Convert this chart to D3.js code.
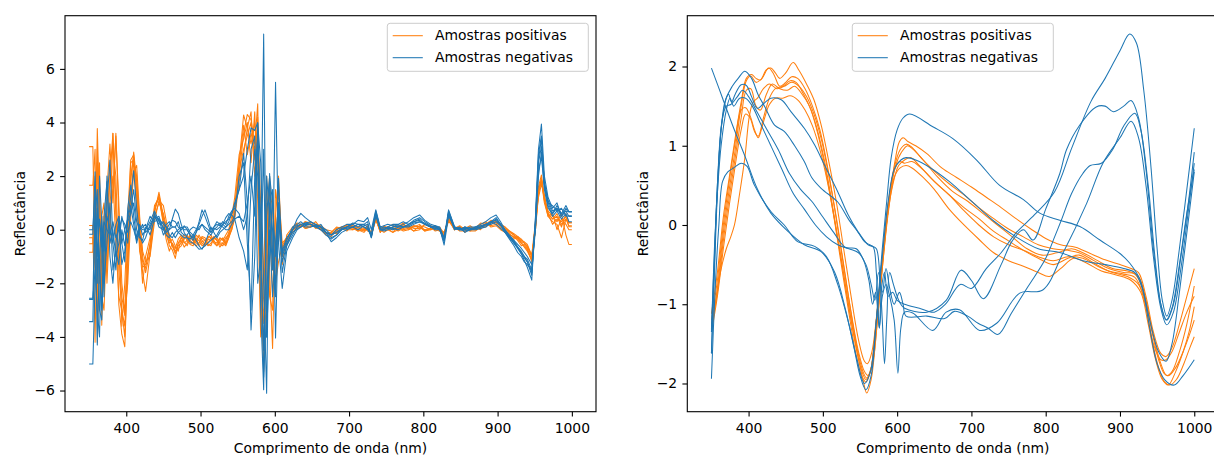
<!DOCTYPE html>
<html>
<head>
<meta charset="utf-8">
<script src="https://cdn.jsdelivr.net/npm/d3@7"></script>
<style>
  body { margin: 0; background: #fff; }
  svg text { font-family: "DejaVu Sans", sans-serif; }
</style>
</head>
<body>
<svg id="fig" width="1214" height="455"></svg>
<script>
var POS_COLOR = '#ff7f0e';
var NEG_COLOR = '#1f77b4';

var legendLabels = ['Amostras positivas', 'Amostras negativas'];
var xLabel = 'Comprimento de onda (nm)';
var yLabel = 'Reflectância';
var xTicks = [400, 500, 600, 700, 800, 900, 1000];
var yTicksLeft = [-6, -4, -2, 0, 2, 4, 6];
var yTicksRight = [-2, -1, 0, 1, 2];

// left panel: derivative spectra, one value per wavelength of waveLeft
var waveLeft = [
  350,355,358,361,364,367,370,374,378,382,
  386,390,394,398,402,406,410,414,418,422,
  426,432,438,444,450,454,458,462,466,470,474,478,482,486,490,494,
  498,502,506,510,514,518,522,526,530,534,538,542,546,552,558,563,
  568,573,577,581,585,589,593,597,601,605,
  610,616,624,630,635,641,648,655,662,669,676,683,690,697,705,712,720,725,
  730,736,742,747,752,759,766,773,780,787,795,802,810,816,822,828,
  834,842,849,856,863,870,877,884,891,898,904,910,916,922,927,932,936,940,
  946,951,955,959,963,968,974,980,986,992,
  996,1000
];

var leftPos = [
  [3.1,3.1,-1.2,3.78,0.8,-2.8,-1.5,0.5,-0.5,3.6,
   1.0,-2.8,-3.9,-4.37,-1.2,1.8,2.9,1.8,-0.2,-1.6,
   -2.3,-0.9,0.6,1.4,0.5,-0.1,-0.6,-0.75,-1.07,-0.5,-0.4,-0.65,-0.5,-0.2,-0.3,-0.45,
   -0.2,-0.4,-0.55,-0.25,-0.3,-0.5,-0.6,-0.35,-0.35,-0.55,-0.3,0.0,0.6,2.0,3.6,4.3,
   4.1,3.2,4.7,-1.5,-5.3,-2.0,1.5,0.8,-2.0,-1.2,
   -0.6,-0.3,-0.1,0.05,0.2,0.1,0.15,0.3,0.05,-0.1,-0.2,-0.05,0.0,0.2,0.1,-0.05,0.0,0.15,
   -0.2,0.5,-0.1,0.15,0.05,-0.1,0.1,0.25,0.0,0.1,0.2,-0.05,0.05,0.15,0.0,-0.25,
   0.5,0.0,0.1,-0.1,0.05,0.0,0.2,0.3,0.1,0.15,0.0,-0.1,-0.25,-0.35,-0.3,-0.5,-0.6,-0.75,
   -1.1,0.2,1.6,2.04,1.2,0.6,0.4,0.5,0.1,0.6,
   0.26,0.26],
  [1.66,1.66,3.0,-4.2,-1.0,0.5,-2.0,1.5,3.2,1.0,
   3.6,0.5,-3.6,-2.0,0.5,2.6,2.8,1.2,-0.8,-1.4,
   -1.3,-0.6,0.9,1.2,0.2,-0.4,-0.8,-0.5,-0.7,-0.35,-0.2,-0.45,-0.6,-0.3,-0.4,-0.6,
   -0.5,-0.25,-0.3,-0.55,-0.6,-0.3,-0.4,-0.65,-0.5,-0.3,-0.2,0.3,0.9,2.5,4.28,3.8,
   4.4,2.0,3.5,-3.43,-2.5,1.0,-1.5,-4.43,0.5,2.0,
   -1.0,-0.5,0.0,0.2,0.1,0.3,0.25,0.05,0.1,-0.15,-0.1,0.1,0.05,-0.05,0.2,0.05,-0.05,0.1,
   -0.15,0.4,-0.05,0.0,0.1,0.2,-0.05,0.05,0.1,-0.05,0.0,0.2,0.15,0.0,-0.05,-0.2,
   0.4,0.1,-0.05,-0.05,0.1,0.05,0.25,0.2,0.35,0.3,0.1,0.0,-0.15,-0.3,-0.25,-0.45,-0.5,-0.6,
   -1.0,0.0,1.5,1.79,1.0,0.5,0.3,0.2,-0.3,0.4,
   0.15,0.15],
  [0.16,0.16,-4.2,1.0,2.5,-3.56,0.5,-1.5,1.0,2.0,
   -0.5,-2.5,-3.0,-3.6,-0.8,2.0,2.7,1.5,0.0,-1.2,
   -1.44,-0.5,0.8,1.2,0.3,-0.2,-0.5,-0.35,-0.6,-0.8,-0.3,-0.2,-0.4,-0.55,-0.6,-0.35,
   -0.4,-0.6,-0.5,-0.3,-0.2,-0.45,-0.5,-0.3,-0.4,-0.2,0.0,0.5,1.2,2.8,3.4,4.0,
   2.5,4.4,1.0,-4.0,-1.5,2.0,-2.5,-3.0,1.5,0.5,
   -1.3,-0.2,0.1,0.25,0.2,0.05,0.1,0.2,0.15,0.0,-0.05,-0.15,0.1,0.15,0.0,0.1,0.1,-0.05,
   -0.1,0.55,0.0,-0.1,0.0,0.1,0.15,0.0,0.05,0.15,0.1,-0.05,0.0,0.1,0.05,-0.2,
   0.45,0.05,0.15,0.0,-0.05,0.1,0.0,0.25,0.15,0.2,0.05,-0.05,-0.2,-0.25,-0.4,-0.6,-0.55,-0.7,
   -1.2,0.1,1.4,1.9,1.1,0.7,0.5,0.3,0.6,-0.2,
   -0.55,-0.55],
  [-0.52,-0.52,2.0,-3.0,1.5,-2.5,-3.0,0.0,2.5,3.0,
   2.0,-1.5,-3.0,-4.0,-1.5,1.2,2.5,2.0,0.3,-1.0,
   -1.6,-0.8,0.5,1.0,0.6,0.1,-0.3,-0.6,-0.8,-0.6,-0.5,-0.3,-0.3,-0.5,-0.5,-0.2,
   -0.3,-0.5,-0.6,-0.35,-0.4,-0.25,-0.4,-0.55,-0.6,-0.4,-0.1,0.2,0.7,2.2,3.0,3.5,
   4.0,2.6,4.2,-2.0,-4.5,-0.5,1.8,-1.0,-2.2,0.8,
   -0.8,-0.4,0.0,0.1,0.15,0.3,0.2,0.1,0.0,-0.2,-0.25,0.0,0.1,0.15,0.05,-0.05,0.05,0.1,
   -0.25,0.45,0.1,0.05,0.0,-0.1,0.0,0.15,0.15,0.05,0.05,0.2,0.1,-0.05,0.0,-0.1,
   0.35,0.0,0.1,0.05,0.15,0.0,0.1,0.1,0.3,0.25,0.15,0.05,-0.1,-0.2,-0.3,-0.4,-0.45,-0.55,
   -0.95,0.3,1.2,1.7,1.3,0.6,0.2,0.4,0.3,0.5,
   0.11,0.11],
  [-0.84,-0.84,1.0,2.5,-2.0,0.5,1.0,-2.0,0.5,1.5,
   3.5,1.0,-2.0,-3.0,-2.0,0.5,2.2,2.4,0.5,-0.8,
   -1.2,-1.0,0.3,1.1,0.9,0.3,-0.2,-0.6,-0.9,-0.5,-0.3,-0.5,-0.4,-0.2,-0.4,-0.5,
   -0.5,-0.3,-0.4,-0.5,-0.3,-0.4,-0.6,-0.45,-0.3,-0.5,-0.2,0.0,0.4,1.8,2.8,3.8,
   3.2,4.0,2.5,0.0,-3.5,-1.0,0.5,-2.5,-1.0,1.5,
   -0.5,-0.3,0.0,0.15,0.1,0.2,0.3,0.15,0.05,-0.1,-0.15,-0.05,0.0,0.1,0.15,0.0,-0.1,0.05,
   -0.1,0.4,-0.1,0.1,0.05,0.0,0.05,0.2,0.1,-0.05,0.15,0.1,0.0,0.05,0.1,-0.15,
   0.3,0.1,0.0,0.1,-0.05,-0.05,0.1,0.15,0.2,0.3,0.2,0.1,-0.05,-0.15,-0.25,-0.35,-0.5,-0.65,
   -1.0,0.0,1.3,1.85,1.1,0.5,0.6,0.0,0.4,0.2,
   0.0,0.0],
  [-0.3,-0.3,-1.5,3.0,0.0,-1.5,0.0,-1.0,2.0,3.6,
   0.5,-1.0,-2.5,-3.2,0.0,2.5,2.6,0.8,-0.5,-2.0,
   -1.0,-0.3,0.7,1.3,0.4,0.0,-0.4,-0.55,-0.8,-0.7,-0.6,-0.35,-0.2,-0.4,-0.5,-0.3,
   -0.6,-0.45,-0.4,-0.6,-0.5,-0.35,-0.3,-0.5,-0.5,-0.6,-0.3,0.1,0.5,2.4,3.9,2.8,
   3.6,3.0,3.8,1.0,-2.0,0.5,2.0,-1.5,-0.5,1.0,
   -0.7,-0.3,-0.1,0.1,0.2,0.05,0.1,0.2,0.0,-0.15,-0.1,0.05,0.1,0.0,0.0,0.1,0.0,0.05,
   -0.2,0.35,0.0,0.1,0.1,0.05,0.05,-0.05,0.0,0.15,0.1,0.0,0.05,0.1,0.0,-0.1,
   0.4,0.0,0.05,0.05,0.0,0.0,0.15,0.2,0.25,0.3,0.2,0.1,-0.05,-0.2,-0.35,-0.5,-0.65,-0.8,
   -1.13,0.2,1.5,1.9,1.2,0.6,0.4,0.6,0.2,0.4,
   0.26,0.26]
];

var leftNeg = [
  [-0.17,-0.17,2.16,-1.0,0.4,-0.5,0.3,0.0,-0.2,0.3,
   -0.3,0.0,0.4,0.2,-0.1,0.3,0.0,-0.4,0.1,0.0,
   0.0,0.3,0.7,0.3,0.1,-0.1,0.0,0.4,0.77,0.6,0.2,-0.1,-0.3,-0.35,-0.2,0.0,
   0.2,0.5,0.74,0.4,0.0,0.1,0.2,0.15,0.3,0.2,0.5,0.7,0.8,0.6,0.0,0.5,
   3.0,3.5,-2.0,-1.0,7.3,-4.0,0.0,-2.5,-0.5,1.0,
   -0.8,-0.3,0.0,0.4,0.61,0.45,0.3,0.2,0.1,-0.1,-0.2,0.0,0.1,0.2,0.2,0.35,0.3,0.45,
   0.0,0.74,0.1,0.15,0.2,0.15,0.1,0.2,0.3,0.45,0.55,0.35,0.2,0.15,0.1,-0.3,
   0.74,0.1,0.05,0.0,0.1,0.1,0.2,0.3,0.45,0.55,0.3,0.0,-0.25,-0.5,-0.7,-0.9,-1.15,-1.4,
   -1.88,0.5,3.0,3.94,2.0,1.2,0.8,1.0,0.5,0.8,
   0.67,0.67],
  [-2.56,-2.56,1.0,-4.3,-1.0,0.5,-2.5,1.0,2.6,-0.5,
   -1.5,0.5,-0.5,-1.2,0.8,1.67,0.5,-0.3,0.2,-0.2,
   0.0,0.5,0.3,0.4,-0.2,0.0,0.2,0.35,0.3,0.1,0.0,0.15,0.0,-0.2,-0.3,-0.1,
   0.1,0.2,0.0,-0.1,-0.2,0.0,0.1,0.25,0.2,0.1,0.3,0.6,1.0,1.5,2.85,1.0,
   -3.74,-1.0,3.97,2.5,-2.0,-6.1,2.1,-1.0,-2.0,1.92,
   -1.2,-0.6,-0.2,0.1,0.2,0.25,0.3,0.2,0.1,-0.1,-0.3,-0.2,0.0,0.1,0.2,0.1,0.2,0.3,
   -0.3,0.6,0.0,0.05,0.1,0.2,0.2,0.1,0.1,0.2,0.3,0.25,0.1,0.05,0.0,-0.4,
   0.6,0.0,0.1,-0.1,0.0,0.1,0.15,0.2,0.3,0.2,0.05,-0.1,-0.3,-0.5,-0.65,-0.8,-1.0,-1.2,
   -1.6,0.3,2.5,3.1,1.8,1.0,0.9,0.7,0.8,0.5,
   0.52,0.52],
  [-3.43,-3.43,0.5,1.5,-3.0,-3.37,-1.0,2.0,-1.0,-2.0,
   -0.5,0.3,-1.3,-0.8,0.5,1.2,2.2,0.8,-0.2,-0.5,
   -0.3,0.2,0.5,0.2,0.3,0.1,-0.2,-0.3,-0.1,0.0,0.1,0.0,0.0,-0.2,-0.4,-0.1,
   0.3,0.74,0.5,0.2,-0.1,0.1,0.3,0.2,0.1,0.0,0.0,0.2,0.4,0.5,0.3,1.0,
   2.0,0.5,3.5,-3.0,-5.97,2.0,0.5,-1.5,5.5,-0.5,
   -2.19,-0.8,-0.3,0.0,0.1,0.25,0.2,0.1,0.2,-0.1,-0.45,-0.3,-0.1,0.0,0.1,0.2,0.2,0.1,
   -0.3,0.5,0.0,-0.05,0.0,0.1,0.2,0.3,0.2,0.3,0.4,0.2,0.1,0.15,0.05,-0.57,
   0.5,0.1,0.0,0.1,0.0,0.0,0.05,0.1,0.25,0.4,0.2,-0.1,-0.35,-0.6,-0.85,-1.0,-1.2,-1.3,
   -1.5,0.0,2.2,2.72,1.5,0.8,0.6,0.9,0.6,0.7,
   0.67,0.67],
  [-5.01,-5.01,-2.0,0.8,-1.5,-3.0,0.5,1.8,-0.5,0.0,
   -1.0,-0.5,0.5,0.0,-0.5,0.8,1.5,0.3,0.0,0.1,
   0.2,-0.2,0.4,0.5,0.0,0.2,0.3,0.1,0.1,-0.1,-0.2,-0.3,-0.3,-0.45,-0.5,-0.6,
   -0.73,-0.7,-0.6,-0.5,-0.4,-0.3,-0.2,0.0,0.2,0.45,0.6,0.55,0.4,-0.3,-0.8,-1.5,
   1.5,3.0,2.0,-1.5,3.0,-4.0,-1.0,1.5,-4.04,0.5,
   -1.6,-0.6,0.0,0.15,0.2,0.1,0.1,0.15,0.0,-0.2,-0.35,-0.2,0.0,0.1,0.25,0.2,0.1,0.05,
   -0.2,0.65,0.0,0.0,0.1,0.05,0.0,0.1,0.2,0.35,0.45,0.3,0.15,0.1,0.0,-0.4,
   0.65,0.05,0.0,-0.05,0.0,0.05,0.1,0.15,0.3,0.45,0.2,-0.1,-0.3,-0.4,-0.65,-0.9,-1.05,-1.2,
   -1.7,0.4,2.8,3.5,1.7,1.1,0.7,0.8,0.6,0.9,
   0.67,0.67],
  [0.0,0.0,1.5,-2.0,2.0,0.3,-0.8,0.5,0.0,-0.5,
   0.2,0.5,-0.5,0.0,0.4,0.9,0.2,-0.5,0.0,0.2,
   -0.1,0.1,0.5,0.4,0.2,0.1,0.0,0.1,0.1,0.3,-0.1,-0.2,-0.2,0.0,0.1,0.05,
   0.0,0.2,0.1,0.0,-0.1,0.05,0.0,0.1,0.2,0.3,0.4,0.6,0.9,1.5,2.0,3.0,
   3.8,3.7,4.0,-1.0,-4.5,0.5,2.0,1.0,-1.0,1.0,
   -0.9,-0.4,0.1,0.2,0.3,0.15,0.2,0.1,0.0,-0.1,-0.2,-0.1,0.0,0.05,0.1,0.2,0.1,0.0,
   -0.2,0.7,0.05,0.1,0.05,0.0,0.1,0.1,0.15,0.25,0.3,0.2,0.1,0.0,0.0,-0.3,
   0.6,0.05,0.0,0.1,0.05,0.05,0.1,0.2,0.2,0.3,0.15,0.0,-0.2,-0.4,-0.55,-0.7,-0.85,-1.0,
   -1.3,0.1,2.0,2.9,1.6,0.9,0.5,0.7,0.4,0.6,
   0.3,0.3],
  [-2.6,-2.6,-1.5,-3.0,-4.0,0.0,-2.0,-0.5,1.0,-1.5,
   -0.8,-1.3,0.0,-0.6,0.3,0.6,1.0,0.0,-0.3,-0.4,
   0.1,0.0,0.6,0.1,0.0,-0.2,-0.3,-0.1,-0.3,-0.1,0.0,0.1,0.1,-0.1,-0.2,-0.4,
   -0.6,-0.73,-0.5,-0.2,0.1,-0.1,-0.3,-0.1,0.0,0.1,0.2,0.3,0.5,2.0,2.5,-0.5,
   -3.0,2.0,3.5,0.5,-5.5,-3.0,1.0,0.0,-2.5,1.0,
   -1.0,-0.5,-0.1,0.05,0.1,0.2,0.2,0.15,0.1,0.0,-0.2,-0.1,0.05,0.1,0.1,0.0,0.15,0.2,
   -0.25,0.6,0.05,0.0,0.05,0.1,0.15,0.1,0.2,0.3,0.35,0.2,0.1,0.1,0.05,-0.45,
   0.7,0.1,0.0,0.05,0.0,0.05,0.1,0.2,0.3,0.35,0.2,-0.05,-0.25,-0.45,-0.65,-0.85,-1.0,-1.1,
   -1.5,0.2,2.6,3.4,1.7,1.0,0.6,0.8,0.5,0.7,
   0.49,0.49]
];

// right panel: normalised spectra as [wavelength, value] pairs
var rightPos = [
  [[350,-1.12],[358,-0.6],[366,0.1],[374,0.6],[382,1.1],[390,1.55],[397,1.85],[404,1.9],[410,1.85],[416,1.83],[424,1.96],[430,1.98],[436,1.92],[442,1.85],[450,1.92],[460,2.05],[468,1.95],[478,1.78],[488,1.58],[498,1.25],[508,0.8],[518,0.3],[528,-0.3],[538,-0.9],[548,-1.45],[556,-1.72],[560,-1.75],[566,-1.6],[574,-1.0],[582,-0.3],[590,0.35],[597,0.8],[603,1.05],[608,1.1],[615,1.05],[625,1.0],[640,0.9],[660,0.72],[680,0.6],[700,0.48],[720,0.35],[740,0.22],[760,0.08],[780,-0.05],[800,-0.17],[820,-0.25],[840,-0.28],[860,-0.36],[880,-0.44],[900,-0.5],[915,-0.55],[925,-0.6],[935,-0.9],[945,-1.35],[955,-1.62],[962,-1.66],[970,-1.55],[980,-1.25],[990,-0.9],[1000,-0.55]],
  [[350,-1.3],[358,-0.8],[366,-0.1],[374,0.45],[382,0.95],[390,1.5],[397,1.82],[403,1.88],[410,1.8],[418,1.85],[427,1.98],[434,1.9],[442,1.75],[450,1.8],[458,1.87],[466,1.85],[476,1.72],[486,1.5],[496,1.2],[506,0.75],[516,0.2],[526,-0.4],[536,-1.0],[546,-1.55],[554,-1.85],[559,-1.93],[565,-1.8],[572,-1.2],[580,-0.45],[588,0.25],[596,0.72],[604,0.95],[612,1.02],[620,0.98],[632,0.85],[650,0.68],[670,0.52],[690,0.38],[710,0.22],[730,0.08],[750,-0.05],[770,-0.15],[790,-0.25],[810,-0.3],[830,-0.32],[845,-0.35],[865,-0.45],[885,-0.55],[905,-0.6],[920,-0.62],[932,-0.85],[942,-1.3],[952,-1.7],[960,-1.88],[966,-1.9],[975,-1.8],[985,-1.6],[993,-1.4],[1000,-1.2]],
  [[350,-1.35],[358,-0.9],[366,-0.3],[374,0.25],[382,0.75],[390,1.2],[396,1.4],[402,1.35],[408,1.18],[413,1.12],[420,1.35],[428,1.6],[436,1.72],[446,1.75],[456,1.82],[464,1.8],[474,1.65],[484,1.45],[494,1.12],[504,0.68],[514,0.15],[524,-0.45],[534,-1.05],[544,-1.6],[552,-1.9],[558,-1.98],[564,-1.85],[571,-1.3],[579,-0.5],[587,0.2],[595,0.65],[603,0.8],[610,0.78],[620,0.8],[632,0.72],[650,0.55],[670,0.38],[690,0.22],[710,0.08],[730,-0.08],[750,-0.2],[770,-0.32],[790,-0.42],[810,-0.5],[830,-0.42],[845,-0.38],[865,-0.48],[885,-0.58],[905,-0.62],[920,-0.66],[932,-0.9],[942,-1.4],[952,-1.8],[960,-1.98],[967,-2.02],[976,-1.95],[986,-1.75],[994,-1.55],[1000,-1.41]],
  [[350,-1.2],[358,-0.7],[366,0.0],[374,0.55],[382,1.05],[390,1.45],[396,1.48],[402,1.38],[408,1.2],[413,1.1],[420,1.3],[428,1.52],[436,1.6],[446,1.6],[456,1.63],[466,1.58],[476,1.45],[486,1.25],[496,0.95],[506,0.55],[516,0.05],[526,-0.5],[536,-1.1],[546,-1.6],[554,-1.95],[559,-2.12],[565,-1.95],[572,-1.35],[580,-0.55],[588,0.15],[596,0.6],[604,0.72],[612,0.75],[620,0.72],[635,0.6],[650,0.45],[670,0.2],[690,0.0],[710,-0.18],[730,-0.35],[750,-0.45],[770,-0.52],[790,-0.6],[805,-0.65],[820,-0.55],[838,-0.42],[855,-0.48],[875,-0.58],[895,-0.63],[915,-0.7],[928,-0.85],[938,-1.25],[948,-1.7],[957,-1.95],[965,-2.02],[975,-1.85],[985,-1.6],[993,-1.35],[1000,-1.03]],
  [[350,-1.25],[355,-1.0],[362,-0.6],[370,-0.3],[376,-0.15],[381,0.0],[388,0.4],[395,0.85],[401,1.37],[406,1.55],[412,1.6],[420,1.72],[428,1.78],[438,1.72],[448,1.75],[458,1.8],[468,1.75],[478,1.62],[488,1.4],[498,1.08],[508,0.62],[518,0.1],[528,-0.5],[538,-1.1],[548,-1.6],[556,-1.85],[561,-1.9],[567,-1.75],[574,-1.15],[582,-0.35],[590,0.35],[598,0.75],[606,0.92],[614,1.0],[622,0.95],[635,0.82],[655,0.6],[675,0.42],[695,0.3],[715,0.15],[735,0.0],[755,-0.15],[775,-0.3],[795,-0.38],[815,-0.35],[835,-0.3],[850,-0.35],[870,-0.45],[890,-0.55],[910,-0.58],[925,-0.65],[935,-0.95],[945,-1.4],[955,-1.75],[963,-1.9],[970,-1.85],[980,-1.6],[990,-1.25],[1000,-0.77]],
  [[350,-1.3],[358,-0.85],[366,-0.2],[374,0.35],[382,0.85],[390,1.35],[397,1.7],[403,1.72],[410,1.5],[416,1.45],[424,1.65],[432,1.78],[442,1.72],[452,1.7],[462,1.75],[472,1.65],[482,1.5],[492,1.22],[502,0.82],[512,0.3],[522,-0.28],[532,-0.85],[542,-1.4],[551,-1.8],[558,-1.95],[564,-1.85],[571,-1.35],[578,-0.7],[586,0.05],[594,0.5],[602,0.75],[610,0.82],[618,0.85],[630,0.75],[650,0.55],[670,0.38],[690,0.18],[710,0.0],[730,-0.15],[750,-0.25],[770,-0.32],[790,-0.4],[810,-0.45],[830,-0.4],[850,-0.42],[870,-0.52],[890,-0.6],[910,-0.65],[925,-0.75],[935,-1.05],[945,-1.5],[955,-1.7],[962,-1.7],[970,-1.6],[980,-1.35],[990,-1.1],[1000,-0.9]]
];

var rightNeg = [
  [[350,1.98],[365,1.6],[380,1.22],[395,0.87],[412,0.45],[430,0.15],[453,-0.08],[475,-0.25],[498,-0.34],[516,-0.6],[530,-1.05],[542,-1.55],[550,-1.9],[558,-2.08],[565,-1.9],[572,-1.2],[580,-0.3],[586,0.3],[592,0.85],[600,1.2],[608,1.35],[617,1.4],[648,1.24],[675,1.09],[707,0.82],[738,0.5],[770,0.32],[792,0.15],[819,0.06],[846,-0.02],[873,-0.19],[900,-0.36],[913,-0.48],[927,-0.69],[940,-1.2],[952,-1.6],[962,-1.72],[970,-1.5],[980,-0.85],[990,-0.1],[1000,0.67]],
  [[350,-1.62],[354,-0.6],[358,0.4],[363,1.2],[370,1.6],[378,1.75],[386,1.85],[395,1.94],[404,1.85],[413,1.64],[422,1.49],[435,1.26],[448,1.18],[462,1.0],[475,0.8],[485,0.6],[498,0.46],[520,0.29],[534,0.08],[548,-0.1],[556,-0.21],[563,-0.25],[568,-0.28],[572,-0.6],[576,-1.3],[579,-0.8],[583,-0.6],[588,-0.9],[594,-0.85],[600,-0.95],[610,-1.0],[630,-1.05],[650,-1.1],[665,-1.0],[685,-0.75],[700,-0.8],[720,-0.55],[740,-0.35],[760,-0.1],[785,0.13],[812,0.42],[835,0.97],[861,1.56],[880,1.85],[900,2.2],[913,2.41],[922,2.3],[932,1.7],[942,0.7],[950,-0.3],[957,-0.95],[963,-1.15],[970,-0.95],[980,-0.3],[990,0.45],[1000,1.22]],
  [[350,-1.32],[354,-0.4],[358,0.5],[363,1.2],[368,1.55],[373,1.65],[377,1.55],[382,1.65],[390,1.77],[397,1.76],[404,1.62],[412,1.47],[420,1.53],[430,1.6],[444,1.58],[457,1.43],[475,1.22],[489,1.01],[502,0.76],[520,0.42],[534,0.13],[547,-0.08],[561,-0.25],[567,-0.27],[572,-0.3],[577,-0.7],[580,-1.2],[583,-1.75],[586,-1.2],[590,-0.6],[595,-0.75],[600,-0.9],[605,-1.0],[610,-1.05],[640,-1.1],[666,-0.95],[686,-0.57],[700,-0.7],[716,-0.93],[740,-0.5],[755,-0.2],[770,-0.06],[783,-0.19],[800,0.2],[819,0.65],[828,0.95],[845,1.25],[868,1.49],[880,1.5],[891,1.43],[905,1.5],[915,1.57],[925,1.35],[935,0.7],[945,-0.3],[955,-1.0],[963,-1.2],[972,-1.0],[982,-0.4],[991,0.2],[1000,0.92]],
  [[350,-1.94],[355,-0.8],[360,0.0],[365,0.55],[372,0.67],[380,0.72],[390,0.78],[398,0.74],[408,0.5],[430,0.17],[448,0.0],[466,-0.21],[489,-0.27],[505,-0.4],[520,-0.75],[535,-1.25],[546,-1.7],[556,-2.0],[564,-1.85],[572,-1.2],[580,-0.4],[588,0.3],[596,0.7],[605,0.82],[612,0.85],[625,0.82],[645,0.72],[670,0.55],[700,0.3],[730,0.05],[760,-0.15],[790,-0.3],[820,-0.35],[850,-0.45],[880,-0.5],[905,-0.55],[920,-0.6],[930,-0.8],[940,-1.3],[950,-1.75],[960,-1.95],[973,-2.02],[985,-1.9],[1000,-1.7]],
  [[350,-1.62],[354,-0.5],[358,0.5],[364,1.3],[370,1.5],[376,1.52],[385,1.62],[392,1.7],[400,1.62],[410,1.45],[425,1.2],[440,0.95],[455,0.65],[470,0.45],[485,0.3],[500,0.1],[515,-0.1],[530,-0.28],[545,-0.3],[555,-0.45],[562,-0.7],[567,-1.0],[571,-0.85],[576,-1.3],[580,-0.9],[585,-0.75],[590,-0.9],[596,-1.2],[601,-1.87],[605,-1.3],[610,-1.1],[621,-1.11],[648,-1.33],[666,-1.1],[684,-1.07],[711,-1.33],[734,-1.24],[765,-0.86],[796,-0.82],[823,-0.36],[855,0.27],[877,0.78],[900,1.1],[915,1.31],[925,1.1],[935,0.5],[945,-0.4],[955,-1.05],[963,-1.26],[972,-1.1],[982,-0.55],[991,0.1],[1000,0.78]],
  [[350,-1.35],[354,-0.3],[358,0.4],[363,1.0],[370,1.45],[375,1.6],[380,1.5],[388,1.6],[396,1.6],[405,1.5],[415,1.3],[430,1.0],[445,0.7],[460,0.4],[475,0.2],[490,0.0],[505,-0.15],[520,-0.25],[535,-0.3],[548,-0.35],[558,-0.5],[565,-0.75],[570,-0.95],[575,-0.6],[580,-0.85],[585,-0.55],[590,-0.8],[596,-1.0],[603,-0.85],[608,-1.0],[612,-1.15],[640,-1.15],[664,-1.18],[677,-1.09],[695,-1.15],[709,-1.24],[722,-1.3],[736,-1.38],[754,-1.11],[776,-0.78],[799,-0.44],[812,-0.15],[821,0.06],[835,0.4],[850,0.65],[860,0.75],[875,0.78],[890,0.95],[905,1.25],[920,1.41],[928,1.2],[938,0.5],[947,-0.4],[955,-1.0],[962,-1.2],[970,-1.05],[980,-0.5],[990,0.15],[1000,0.7]]
];

var svg = d3.select('#fig');
var FONT = 13.9;

function drawPanel(p) {
  var x = d3.scaleLinear().domain([317.5, 1032.5]).range([p.left, p.right]);
  var y = d3.scaleLinear().domain(p.yDomain).range([p.bottom, p.top]);
  var g = svg.append('g');

  var clipId = 'clip' + p.id;
  svg.append('clipPath').attr('id', clipId)
    .append('rect')
    .attr('x', p.left).attr('y', p.top)
    .attr('width', p.right - p.left).attr('height', p.bottom - p.top);

  var line = d3.line()
    .defined(function (d) { return d[0] != null && d[1] != null; })
    .x(function (d) { return x(d[0]); })
    .y(function (d) { return y(d[1]); })
    .curve(p.curve);

  var lines = g.append('g').attr('clip-path', 'url(#' + clipId + ')');
  p.pos.forEach(function (s) {
    lines.append('path').attr('d', line(s))
      .attr('fill', 'none').attr('stroke', POS_COLOR)
      .attr('stroke-width', 1.05).attr('stroke-linejoin', 'round');
  });
  p.neg.forEach(function (s) {
    lines.append('path').attr('d', line(s))
      .attr('fill', 'none').attr('stroke', NEG_COLOR)
      .attr('stroke-width', 1.05).attr('stroke-linejoin', 'round');
  });

  // axes
  var xAxis = g.append('g').attr('transform', 'translate(0,' + p.bottom + ')')
    .call(d3.axisBottom(x).tickValues(xTicks).tickSize(4.9).tickPadding(6.5).tickFormat(d3.format('d')));
  var yAxis = g.append('g').attr('transform', 'translate(' + p.left + ',0)')
    .call(d3.axisLeft(y).tickValues(p.yTicks).tickSize(4.9).tickPadding(5.2).tickFormat(d3.format('d')));
  [xAxis, yAxis].forEach(function (a) {
    a.select('.domain').remove();
    a.attr('font-size', FONT).attr('font-family', '"DejaVu Sans", sans-serif');
    a.selectAll('.tick line').attr('stroke', '#000').attr('stroke-width', 1.1);
    a.selectAll('.tick text').attr('fill', '#000');
  });

  // frame
  g.append('rect')
    .attr('x', p.left).attr('y', p.top)
    .attr('width', p.right - p.left).attr('height', p.bottom - p.top)
    .attr('fill', 'none').attr('stroke', '#000').attr('stroke-width', 1.1);

  // labels
  g.append('text').attr('x', (p.left + p.right) / 2).attr('y', 453)
    .attr('text-anchor', 'middle').attr('font-size', FONT).text(xLabel);
  g.append('text')
    .attr('transform', 'translate(' + p.yLabelX + ',' + ((p.top + p.bottom) / 2) + ') rotate(-90)')
    .attr('text-anchor', 'middle').attr('font-size', FONT).text(yLabel);

  // legend
  var lg = g.append('g').attr('transform', 'translate(' + p.legendX + ',' + (p.top + 7.6) + ')');
  lg.append('rect').attr('width', 201).attr('height', 48).attr('rx', 2.8)
    .attr('fill', '#fff').attr('fill-opacity', 0.8)
    .attr('stroke', '#cccccc').attr('stroke-width', 1);
  [POS_COLOR, NEG_COLOR].forEach(function (c, i) {
    var ry = 12.4 + i * 22;
    lg.append('line').attr('x1', 5.4).attr('x2', 35.5).attr('y1', ry).attr('y2', ry)
      .attr('stroke', c).attr('stroke-width', 1.05);
    lg.append('text').attr('x', 47.7).attr('y', ry).attr('dy', '0.33em')
      .attr('font-size', FONT).text(legendLabels[i]);
  });
}

var toPairs = function (vals) {
  return vals.map(function (v, i) { return [waveLeft[i], v]; });
};

drawPanel({
  id: 'L', left: 65, right: 596, top: 15.7, bottom: 411.7,
  yDomain: [-6.79, 7.985], yTicks: yTicksLeft, yLabelX: 25,
  legendX: 387.3, curve: d3.curveLinear,
  pos: leftPos.map(toPairs), neg: leftNeg.map(toPairs)
});

drawPanel({
  id: 'R', left: 687.3, right: 1218.4, top: 15.7, bottom: 411.7,
  yDomain: [-2.356, 2.641], yTicks: yTicksRight, yLabelX: 648,
  legendX: 852.3, curve: d3.curveCatmullRom.alpha(0.5),
  pos: rightPos, neg: rightNeg
});
</script>
</body>
</html>
